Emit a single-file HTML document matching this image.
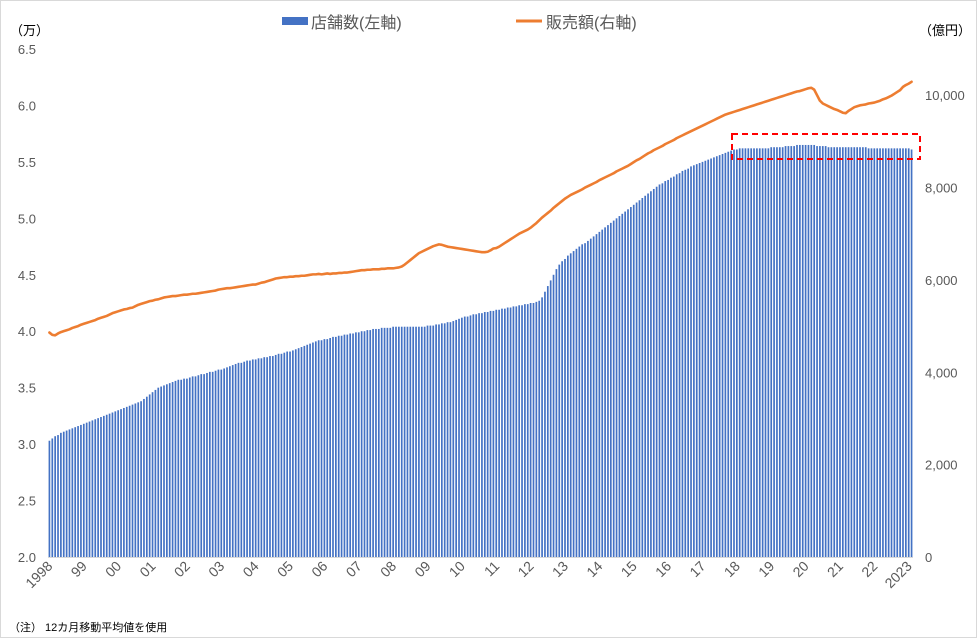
<!DOCTYPE html>
<html><head><meta charset="utf-8">
<style>
body{margin:0;background:#fff;}
#wrap{position:relative;width:977px;height:638px;box-sizing:border-box;border:1px solid #d9d9d9;background:#fff;overflow:hidden;font-family:"Liberation Sans","Noto Sans CJK JP",sans-serif;}
svg text{font-family:"Liberation Sans","Noto Sans CJK JP",sans-serif;}
</style></head>
<body>
<div id="wrap">
<svg id="chart" width="977" height="638"></svg>
</div>
<script>
const stores = [
3.03,3.05,3.07,3.08,3.10,3.11,3.12,3.13,3.14,3.15,3.16,3.17,
3.18,3.19,3.20,3.21,3.22,3.23,3.24,3.25,3.26,3.27,3.28,3.29,
3.30,3.31,3.32,3.33,3.34,3.35,3.36,3.37,3.38,3.40,3.42,3.44,
3.46,3.48,3.50,3.51,3.52,3.53,3.54,3.55,3.56,3.57,3.57,3.58,
3.58,3.59,3.60,3.60,3.61,3.62,3.62,3.63,3.64,3.64,3.65,3.66,
3.66,3.67,3.68,3.69,3.70,3.71,3.72,3.72,3.73,3.74,3.74,3.75,
3.75,3.76,3.76,3.77,3.77,3.78,3.78,3.79,3.80,3.80,3.81,3.82,
3.82,3.83,3.84,3.85,3.86,3.87,3.88,3.89,3.90,3.91,3.92,3.92,
3.93,3.93,3.94,3.95,3.95,3.96,3.96,3.97,3.97,3.98,3.98,3.99,
3.99,4.00,4.00,4.01,4.01,4.02,4.02,4.02,4.03,4.03,4.03,4.03,
4.04,4.04,4.04,4.04,4.04,4.04,4.04,4.04,4.04,4.04,4.04,4.04,
4.05,4.05,4.05,4.06,4.06,4.07,4.07,4.08,4.08,4.09,4.10,4.11,
4.12,4.13,4.13,4.14,4.15,4.15,4.16,4.16,4.17,4.17,4.18,4.18,
4.19,4.19,4.20,4.20,4.21,4.21,4.22,4.22,4.23,4.23,4.24,4.24,
4.25,4.25,4.26,4.27,4.30,4.35,4.40,4.45,4.50,4.55,4.59,4.62,
4.64,4.67,4.69,4.71,4.73,4.75,4.77,4.78,4.80,4.82,4.84,4.86,
4.88,4.90,4.92,4.94,4.96,4.98,5.00,5.02,5.04,5.06,5.08,5.10,
5.12,5.14,5.16,5.18,5.20,5.22,5.24,5.26,5.28,5.30,5.31,5.33,
5.34,5.36,5.37,5.39,5.40,5.42,5.43,5.44,5.46,5.47,5.48,5.49,
5.50,5.51,5.52,5.53,5.54,5.55,5.56,5.57,5.58,5.59,5.60,5.61,
5.61,5.62,5.62,5.62,5.62,5.62,5.62,5.62,5.62,5.62,5.62,5.62,
5.63,5.63,5.63,5.63,5.63,5.64,5.64,5.64,5.64,5.65,5.65,5.65,
5.65,5.65,5.65,5.65,5.64,5.64,5.64,5.64,5.63,5.63,5.63,5.63,
5.63,5.63,5.63,5.63,5.63,5.63,5.63,5.63,5.63,5.63,5.62,5.62,
5.62,5.62,5.62,5.62,5.62,5.62,5.62,5.62,5.62,5.62,5.62,5.62,
5.62,5.61];
const sales = [
4860,4810,4800,4840,4870,4890,4910,4930,4960,4980,5000,5030,
5050,5070,5090,5110,5130,5160,5180,5200,5220,5250,5280,5300,
5320,5340,5360,5370,5390,5400,5430,5460,5480,5500,5520,5540,
5550,5570,5580,5600,5620,5630,5640,5650,5650,5660,5670,5680,
5680,5690,5700,5700,5710,5720,5730,5740,5750,5760,5770,5790,
5800,5810,5820,5820,5830,5840,5850,5860,5870,5880,5890,5900,
5900,5920,5940,5950,5970,5990,6010,6030,6040,6050,6060,6060,
6070,6070,6080,6080,6090,6090,6100,6110,6120,6120,6130,6120,
6130,6140,6130,6140,6140,6150,6150,6160,6160,6170,6180,6190,
6200,6210,6210,6220,6220,6230,6230,6230,6240,6240,6250,6250,
6250,6260,6270,6290,6330,6380,6430,6480,6530,6580,6610,6640,
6670,6700,6730,6750,6770,6760,6740,6720,6710,6700,6690,6680,
6670,6660,6650,6640,6630,6620,6610,6600,6600,6610,6640,6680,
6690,6720,6760,6800,6840,6880,6920,6960,7000,7030,7060,7090,
7130,7180,7230,7290,7350,7400,7450,7500,7560,7610,7660,7710,
7760,7800,7840,7870,7900,7930,7960,8000,8030,8060,8090,8120,
8160,8190,8220,8250,8280,8310,8350,8380,8410,8440,8470,8510,
8550,8590,8620,8660,8700,8740,8770,8810,8840,8870,8900,8940,
8970,9000,9030,9070,9100,9130,9160,9190,9220,9250,9280,9310,
9340,9370,9400,9430,9460,9490,9520,9550,9580,9600,9620,9640,
9660,9680,9700,9720,9740,9760,9780,9800,9820,9840,9860,9880,
9900,9920,9940,9960,9980,10000,10020,10040,10060,10080,10090,10110,
10130,10150,10160,10120,10000,9880,9820,9790,9760,9730,9700,9680,
9650,9620,9610,9660,9700,9740,9760,9780,9790,9800,9820,9830,
9840,9860,9880,9910,9930,9960,9990,10030,10070,10110,10180,10220,
10250,10290];
const leftTicks = ["2.0","2.5","3.0","3.5","4.0","4.5","5.0","5.5","6.0","6.5"];
const leftTickVals = [2.0,2.5,3.0,3.5,4.0,4.5,5.0,5.5,6.0,6.5];
const rightTicks = ["0","2,000","4,000","6,000","8,000","10,000"];
const rightTickVals = [0,2000,4000,6000,8000,10000];
const yearLabels = ["1998","99","00","01","02","03","04","05","06","07","08","09","10","11","12","13","14","15","16","17","18","19","20","21","22","2023"];

const NS="http://www.w3.org/2000/svg";
const svg=document.getElementById('chart');
const X0=47,X1=912,Y0=556,Y1=48;
const n=stores.length;
const step=(X1-X0)/n;
const xPos=i=>X0+(i+0.5)*step;
const yL=v=>Y0-(v-2.0)/(6.5-2.0)*(Y0-Y1);
const yR=v=>Y0-v/11000*(Y0-Y1);
function mk(tag,attrs,parent){const e=document.createElementNS(NS,tag);for(const k in attrs)e.setAttribute(k,attrs[k]);(parent||svg).appendChild(e);return e;}

const bars=mk('g',{});


stores.forEach((v,i)=>{
  const r=mk('rect',{x:(xPos(i)-0.85).toFixed(2),y:yL(v).toFixed(2),width:1.7,height:(Y0-yL(v)).toFixed(2),fill:'#4472C4'},bars);
  
  
});
const axis=mk('line',{x1:X0,x2:X1,y1:Y0+0.5,y2:Y0+0.5,stroke:'#d9d9d9','stroke-width':1});



const pts=sales.map((v,i)=>xPos(i).toFixed(2)+','+yR(v).toFixed(2)).join(' ');
const line=mk('polyline',{points:pts,fill:'none',stroke:'#ED7D31','stroke-width':2.6,'stroke-linejoin':'round','stroke-linecap':'round'});



const box=mk('rect',{x:731,y:133,width:188,height:25,fill:'none',stroke:'#FF0000','stroke-width':2,'stroke-dasharray':'6,4'});



leftTicks.forEach((t,i)=>{
  const e=mk('text',{x:35,y:yL(leftTickVals[i])+5,'text-anchor':'end','font-size':13,fill:'#595959'});
  e.textContent=t;
  
  
});
rightTicks.forEach((t,i)=>{
  const e=mk('text',{x:924,y:yR(rightTickVals[i])+5,'text-anchor':'start','font-size':13,fill:'#595959'});
  e.textContent=t;
  
  
});
yearLabels.forEach((t,k)=>{
  const x=xPos(k*12)+4, y=566;
  const e=mk('text',{x:x,y:y,'text-anchor':'end','font-size':14,fill:'#595959',transform:`rotate(-45 ${x} ${y})`});
  e.textContent=t;
  
  
});
let t=mk('text',{x:9,y:34,'font-size':13,fill:'#000'});t.textContent='（万）';


t=mk('text',{x:918,y:34,'font-size':13,fill:'#000'});t.textContent='（億円）';


t=mk('text',{x:8,y:630,'font-size':11,fill:'#000'});t.textContent='（注） 12カ月移動平均値を使用';



const lg=mk('g',{});


let s=mk('rect',{x:281,y:16,width:26,height:8,fill:'#4472C4'},lg);


t=mk('text',{x:310,y:27,'font-size':16,fill:'#595959'},lg);t.textContent='店舗数(左軸)';


s=mk('line',{x1:515,x2:541,y1:20,y2:20,stroke:'#ED7D31','stroke-width':3},lg);


t=mk('text',{x:545,y:27,'font-size':16,fill:'#595959'},lg);t.textContent='販売額(右軸)';


</script>
</body></html>
